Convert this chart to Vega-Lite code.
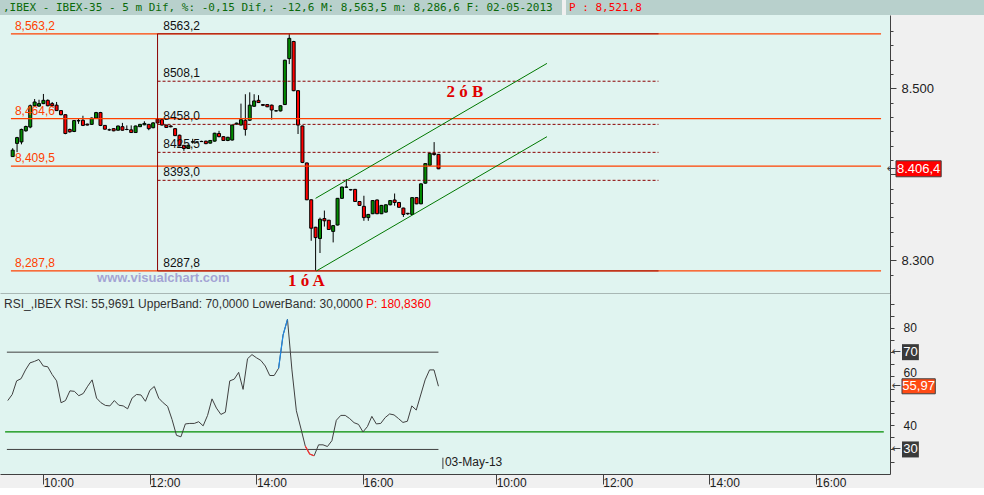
{
  "$schema": "https://vega.github.io/schema/vega-lite/v6.json",
  "background": "#f0f0f0",
  "padding": 0,
  "spacing": 0,
  "config": {
    "view": {"stroke": null, "fill": "#e0f4f0"},
    "font": "Liberation Sans",
    "concat": {"spacing": 0},
    "axis": {"grid": false, "labelFont": "Liberation Sans", "labelColor": "#202020", "domainColor": "#404040", "tickColor": "#404040"}
  },
  "datasets": {
    "candles": [
      {"i":4,"o":8420.6,"h":8430.3,"l":8420.2,"c":8428.1},
      {"i":5,"o":8435.9,"h":8443.5,"l":8425.8,"c":8442.6},
      {"i":6,"o":8437.6,"h":8453.0,"l":8434.8,"c":8452.1},
      {"i":7,"o":8450.5,"h":8456.5,"l":8449.5,"c":8455.5},
      {"i":8,"o":8454.9,"h":8481.0,"l":8453.5,"c":8479.6},
      {"i":9,"o":8479.6,"h":8487.4,"l":8478.5,"c":8484.0},
      {"i":10,"o":8479.2,"h":8486.6,"l":8478.5,"c":8482.1},
      {"i":11,"o":8482.1,"h":8493.3,"l":8481.5,"c":8485.9},
      {"i":12,"o":8485.9,"h":8487.0,"l":8479.0,"c":8479.6},
      {"i":13,"o":8482.1,"h":8484.0,"l":8478.4,"c":8479.6},
      {"i":14,"o":8480.3,"h":8484.0,"l":8473.5,"c":8474.0},
      {"i":15,"o":8474.0,"h":8474.5,"l":8468.5,"c":8469.2},
      {"i":16,"o":8469.2,"h":8469.5,"l":8446.5,"c":8447.4},
      {"i":17,"o":8452.1,"h":8453.0,"l":8448.5,"c":8449.3},
      {"i":18,"o":8449.7,"h":8463.0,"l":8449.0,"c":8462.4},
      {"i":19,"o":8462.4,"h":8464.2,"l":8458.6,"c":8462.0},
      {"i":20,"o":8462.8,"h":8468.0,"l":8456.0,"c":8456.8},
      {"i":21,"o":8458.3,"h":8458.8,"l":8456.8,"c":8457.2},
      {"i":22,"o":8458.0,"h":8466.0,"l":8457.5,"c":8465.3},
      {"i":23,"o":8465.3,"h":8472.5,"l":8465.0,"c":8471.7},
      {"i":24,"o":8471.7,"h":8472.5,"l":8456.0,"c":8456.8},
      {"i":25,"o":8456.8,"h":8457.0,"l":8452.0,"c":8452.4},
      {"i":26,"o":8451.7,"h":8453.0,"l":8450.5,"c":8451.6},
      {"i":27,"o":8453.0,"h":8453.5,"l":8450.0,"c":8450.5},
      {"i":28,"o":8451.2,"h":8456.5,"l":8450.8,"c":8456.1},
      {"i":29,"o":8455.3,"h":8459.7,"l":8450.8,"c":8451.2},
      {"i":30,"o":8452.1,"h":8456.8,"l":8451.2,"c":8452.0},
      {"i":31,"o":8451.6,"h":8456.8,"l":8448.0,"c":8448.5},
      {"i":32,"o":8448.5,"h":8456.5,"l":8448.0,"c":8456.1},
      {"i":33,"o":8455.3,"h":8458.5,"l":8455.0,"c":8458.0},
      {"i":34,"o":8457.5,"h":8461.6,"l":8457.0,"c":8459.1},
      {"i":35,"o":8458.0,"h":8458.5,"l":8451.2,"c":8453.0},
      {"i":36,"o":8454.1,"h":8460.5,"l":8453.5,"c":8459.7},
      {"i":37,"o":8464.2,"h":8465.0,"l":8459.0,"c":8459.7},
      {"i":38,"o":8463.5,"h":8464.0,"l":8456.8,"c":8457.2},
      {"i":39,"o":8457.2,"h":8457.5,"l":8453.8,"c":8454.4},
      {"i":40,"o":8456.1,"h":8457.0,"l":8454.5,"c":8455.2},
      {"i":41,"o":8453.0,"h":8453.5,"l":8444.5,"c":8444.9},
      {"i":42,"o":8445.4,"h":8446.0,"l":8432.5,"c":8433.1},
      {"i":43,"o":8433.7,"h":8434.0,"l":8427.3,"c":8430.0},
      {"i":44,"o":8430.0,"h":8434.5,"l":8429.5,"c":8433.7},
      {"i":45,"o":8437.4,"h":8441.2,"l":8435.6,"c":8437.8},
      {"i":46,"o":8437.5,"h":8438.5,"l":8436.5,"c":8437.4},
      {"i":47,"o":8438.0,"h":8439.0,"l":8437.5,"c":8438.2},
      {"i":48,"o":8438.5,"h":8439.0,"l":8435.0,"c":8435.6},
      {"i":49,"o":8436.2,"h":8439.8,"l":8435.8,"c":8439.3},
      {"i":50,"o":8438.5,"h":8448.2,"l":8438.0,"c":8447.7},
      {"i":51,"o":8447.4,"h":8450.5,"l":8443.0,"c":8443.7},
      {"i":52,"o":8443.7,"h":8444.0,"l":8438.8,"c":8439.3},
      {"i":53,"o":8439.3,"h":8443.5,"l":8438.5,"c":8443.0},
      {"i":54,"o":8439.8,"h":8457.7,"l":8439.3,"c":8457.2},
      {"i":55,"o":8458.3,"h":8460.0,"l":8457.8,"c":8459.4},
      {"i":56,"o":8457.2,"h":8482.1,"l":8456.8,"c":8463.5},
      {"i":57,"o":8462.8,"h":8493.0,"l":8444.9,"c":8452.1},
      {"i":58,"o":8462.8,"h":8495.2,"l":8462.0,"c":8480.3},
      {"i":59,"o":8479.0,"h":8493.0,"l":8478.5,"c":8485.2},
      {"i":60,"o":8485.9,"h":8491.9,"l":8482.8,"c":8483.3},
      {"i":61,"o":8481.0,"h":8481.5,"l":8479.2,"c":8480.1},
      {"i":62,"o":8481.0,"h":8481.5,"l":8478.0,"c":8478.4},
      {"i":63,"o":8480.3,"h":8481.0,"l":8463.5,"c":8474.7},
      {"i":64,"o":8473.6,"h":8474.5,"l":8473.0,"c":8473.8},
      {"i":65,"o":8473.6,"h":8480.0,"l":8473.0,"c":8479.6},
      {"i":66,"o":8481.0,"h":8533.0,"l":8480.5,"c":8532.5},
      {"i":67,"o":8534.4,"h":8563.2,"l":8528.0,"c":8557.9},
      {"i":68,"o":8554.2,"h":8555.0,"l":8496.5,"c":8497.1},
      {"i":69,"o":8497.1,"h":8497.5,"l":8446.8,"c":8457.2},
      {"i":70,"o":8456.1,"h":8456.5,"l":8413.0,"c":8413.8},
      {"i":71,"o":8413.2,"h":8413.5,"l":8370.0,"c":8370.4},
      {"i":72,"o":8370.4,"h":8370.8,"l":8322.8,"c":8337.4},
      {"i":73,"o":8338.5,"h":8339.0,"l":8287.8,"c":8326.5},
      {"i":74,"o":8325.4,"h":8349.7,"l":8308.6,"c":8347.8},
      {"i":75,"o":8348.6,"h":8357.9,"l":8339.3,"c":8346.0},
      {"i":76,"o":8346.7,"h":8347.0,"l":8335.5,"c":8335.9},
      {"i":77,"o":8333.7,"h":8341.0,"l":8320.9,"c":8340.4},
      {"i":78,"o":8341.1,"h":8372.5,"l":8340.6,"c":8372.1},
      {"i":79,"o":8372.1,"h":8385.7,"l":8371.5,"c":8385.2},
      {"i":80,"o":8385.0,"h":8394.5,"l":8384.5,"c":8385.2},
      {"i":81,"o":8382.2,"h":8383.0,"l":8381.0,"c":8382.0},
      {"i":82,"o":8382.5,"h":8383.0,"l":8368.0,"c":8368.4},
      {"i":83,"o":8368.4,"h":8368.8,"l":8363.5,"c":8363.9},
      {"i":84,"o":8362.8,"h":8375.1,"l":8346.0,"c":8349.7},
      {"i":85,"o":8349.7,"h":8354.0,"l":8346.0,"c":8353.4},
      {"i":86,"o":8354.2,"h":8370.0,"l":8353.8,"c":8369.5},
      {"i":87,"o":8370.2,"h":8370.6,"l":8353.8,"c":8354.2},
      {"i":88,"o":8354.2,"h":8364.4,"l":8353.8,"c":8363.9},
      {"i":89,"o":8356.1,"h":8365.0,"l":8355.6,"c":8364.6},
      {"i":90,"o":8364.6,"h":8370.0,"l":8364.0,"c":8369.5},
      {"i":91,"o":8370.2,"h":8377.7,"l":8363.5,"c":8367.3},
      {"i":92,"o":8367.3,"h":8367.7,"l":8361.3,"c":8361.7},
      {"i":93,"o":8360.8,"h":8361.2,"l":8350.5,"c":8353.4},
      {"i":94,"o":8354.7,"h":8355.2,"l":8352.8,"c":8354.2},
      {"i":95,"o":8353.4,"h":8373.4,"l":8353.0,"c":8372.9},
      {"i":96,"o":8372.9,"h":8373.3,"l":8365.3,"c":8365.7},
      {"i":97,"o":8365.7,"h":8389.4,"l":8365.3,"c":8388.9},
      {"i":98,"o":8389.7,"h":8412.9,"l":8389.2,"c":8412.4},
      {"i":99,"o":8410.5,"h":8424.9,"l":8410.0,"c":8424.4},
      {"i":100,"o":8424.4,"h":8437.4,"l":8421.7,"c":8423.0},
      {"i":101,"o":8423.2,"h":8423.6,"l":8406.0,"c":8406.4}
    ],
    "rsi": [
      {"i":4,"r":50.1},{"i":5,"r":52.6},{"i":6,"r":58.2},{"i":7,"r":59.1},{"i":8,"r":62.7},{"i":9,"r":65.6},
      {"i":10,"r":66.2},{"i":11,"r":67.0},{"i":12,"r":64.3},{"i":13,"r":64.0},{"i":14,"r":60.8},{"i":15,"r":58.2},
      {"i":16,"r":49.2},{"i":17,"r":50.1},{"i":18,"r":54.1},{"i":19,"r":53.9},{"i":20,"r":52.1},{"i":21,"r":53.0},
      {"i":22,"r":56.0},{"i":23,"r":58.6},{"i":24,"r":51.1},{"i":25,"r":49.2},{"i":26,"r":48.1},{"i":27,"r":47.9},
      {"i":28,"r":50.1},{"i":29,"r":48.2},{"i":30,"r":47.9},{"i":31,"r":46.7},{"i":32,"r":51.1},{"i":33,"r":52.6},
      {"i":34,"r":52.4},{"i":35,"r":49.8},{"i":36,"r":54.3},{"i":37,"r":55.9},{"i":38,"r":51.1},{"i":39,"r":49.2},
      {"i":40,"r":47.7},{"i":41,"r":42.3},{"i":42,"r":35.8},{"i":43,"r":35.2},{"i":44,"r":40.5},{"i":45,"r":40.7},
      {"i":46,"r":40.7},{"i":47,"r":41.4},{"i":48,"r":39.7},{"i":49,"r":44.0},{"i":50,"r":50.8},{"i":51,"r":47.0},
      {"i":52,"r":44.4},{"i":53,"r":45.3},{"i":54,"r":58.2},{"i":55,"r":58.9},{"i":56,"r":61.7},{"i":57,"r":54.7},
      {"i":58,"r":67.3},{"i":59,"r":69.0},{"i":60,"r":67.7},{"i":61,"r":66.6},{"i":62,"r":64.3},{"i":63,"r":60.4},
      {"i":64,"r":60.4},{"i":65,"r":63.4},{"i":66,"r":77.0},{"i":67,"r":83.5},{"i":68,"r":62.7},{"i":69,"r":45.9},
      {"i":70,"r":38.8},{"i":71,"r":31.4},{"i":72,"r":28.1},{"i":73,"r":27.4},{"i":74,"r":31.9},{"i":75,"r":31.9},
      {"i":76,"r":31.2},{"i":77,"r":33.6},{"i":78,"r":42.0},{"i":79,"r":44.0},{"i":80,"r":44.0},{"i":81,"r":42.7},
      {"i":82,"r":41.0},{"i":83,"r":40.3},{"i":84,"r":37.2},{"i":85,"r":39.4},{"i":86,"r":43.6},{"i":87,"r":40.5},
      {"i":88,"r":40.7},{"i":89,"r":43.1},{"i":90,"r":44.6},{"i":91,"r":44.2},{"i":92,"r":42.7},{"i":93,"r":41.1},
      {"i":94,"r":41.6},{"i":95,"r":47.9},{"i":96,"r":46.2},{"i":97,"r":52.4},{"i":98,"r":58.6},{"i":99,"r":62.7},
      {"i":100,"r":62.7},{"i":101,"r":56.0}
    ]
  },
  "vconcat": [
    {
      "hconcat": [
        {
          "width": 562, "height": 15,
          "view": {"fill": "#b8d0cc", "stroke": null},
          "title": {"text": ",IBEX - IBEX-35 -   5 m Dif, %: -0,15 Dif,: -12,6 M: 8,563,5 m: 8,286,6 F: 02-05-2013", "anchor": "start", "orient": "top", "offset": -13, "dx": 3, "fontSize": 11, "fontWeight": "normal", "color": "#0a6a0a", "font": "DejaVu Sans Mono"},
          "data": {"values": [{"t": ""}]},
          "mark": {"type": "text"},
          "encoding": {"text": {"field": "t"}}
        },
        {
          "width": 422, "height": 15,
          "view": {"fill": "#b8d0cc", "stroke": null},
          "title": {"text": "P : 8,521,8", "anchor": "start", "orient": "top", "offset": -13, "dx": 3, "fontSize": 11, "fontWeight": "normal", "color": "#ff0000", "font": "DejaVu Sans Mono"},
          "data": {"values": [{"t": ""}]},
          "mark": {"type": "text"},
          "encoding": {"text": {"field": "t"}}
        }
      ]
    },
    {
      "width": 890, "height": 279,
      "layer": [
        {
          "data": {"name": "candles"},
          "mark": {"type": "rule", "color": "#000000", "strokeWidth": 1},
          "encoding": {
            "x": {"field": "i", "type": "quantitative", "scale": {"domain": [2.25, 202.7], "nice": false, "zero": false},
                  "axis": {"orient": "bottom", "labels": false, "ticks": false, "domain": true, "domainColor": "#000000", "domainWidth": 1.5, "title": null, "grid": false}},
            "y": {"field": "l", "type": "quantitative", "scale": {"domain": [8266.8, 8579.2], "nice": false, "zero": false},
                  "axis": {"orient": "right", "values": [8283.3, 8300, 8316.7, 8333.3, 8350, 8366.7, 8383.3, 8400, 8416.7, 8433.3, 8450, 8466.7, 8483.3, 8500, 8516.7, 8533.3, 8550, 8566.7],
                           "labelExpr": "datum.value == 8300 || datum.value == 8500 ? replace(format(datum.value, ','), ',', '.') : ''",
                           "tickSize": {"condition": {"test": "datum.value % 100 == 0", "value": 6}, "value": 3},
                           "labelPadding": 5, "labelFontSize": 13, "labelOverlap": false, "labelFlush": false, "title": null, "grid": false}},
            "y2": {"field": "h"}
          }
        },
        {
          "data": {"name": "candles"},
          "mark": {"type": "bar", "size": 3, "stroke": "#000000", "strokeWidth": 1},
          "encoding": {
            "x": {"field": "i", "type": "quantitative", "title": null},
            "y": {"field": "o", "type": "quantitative", "title": null, "axis": {"orient": "right", "values": [8283.3, 8300, 8316.7, 8333.3, 8350, 8366.7, 8383.3, 8400, 8416.7, 8433.3, 8450, 8466.7, 8483.3, 8500, 8516.7, 8533.3, 8550, 8566.7]}},
            "y2": {"field": "c"},
            "fill": {"condition": {"test": "datum.c >= datum.o", "value": "#008c00"}, "value": "#ff0000"}
          }
        },
        {
          "data": {"values": [{"p": 8563.2, "t": "8,563,2"}, {"p": 8464.6, "t": "8,464,6"}, {"p": 8409.5, "t": "8,409,5"}, {"p": 8287.8, "t": "8,287,8"}]},
          "layer": [
            {"mark": {"type": "rule", "color": "#ff4000", "strokeWidth": 1.2},
             "encoding": {"x": {"datum": 3.6}, "x2": {"datum": 201.8}, "y": {"field": "p", "type": "quantitative", "title": null, "axis": {"orient": "right", "values": [8283.3, 8300, 8316.7, 8333.3, 8350, 8366.7, 8383.3, 8400, 8416.7, 8433.3, 8450, 8466.7, 8483.3, 8500, 8516.7, 8533.3, 8550, 8566.7]}}}},
            {"mark": {"type": "text", "align": "left", "baseline": "bottom", "dy": -1, "fontSize": 12, "color": "#ff4000"},
             "encoding": {"x": {"datum": 4.5}, "y": {"field": "p", "type": "quantitative", "title": null, "axis": {"orient": "right", "values": [8283.3, 8300, 8316.7, 8333.3, 8350, 8366.7, 8383.3, 8400, 8416.7, 8433.3, 8450, 8466.7, 8483.3, 8500, 8516.7, 8533.3, 8550, 8566.7]}}, "text": {"field": "t"}}}
          ]
        },
        {
          "data": {"values": [{"p": 8563.2, "t": "8563,2", "k": "s"}, {"p": 8508.1, "t": "8508,1", "k": "d"}, {"p": 8458.0, "t": "8458,0", "k": "d"}, {"p": 8425.5, "t": "8425,5", "k": "d"}, {"p": 8393.0, "t": "8393,0", "k": "d"}, {"p": 8287.8, "t": "8287,8", "k": "s"}]},
          "layer": [
            {"mark": {"type": "rule", "color": "#8b0000", "strokeWidth": 1},
             "encoding": {"x": {"datum": 37}, "x2": {"datum": 151.1}, "y": {"field": "p", "type": "quantitative", "title": null, "axis": {"orient": "right", "values": [8283.3, 8300, 8316.7, 8333.3, 8350, 8366.7, 8383.3, 8400, 8416.7, 8433.3, 8450, 8466.7, 8483.3, 8500, 8516.7, 8533.3, 8550, 8566.7]}},
                          "strokeDash": {"condition": {"test": "datum.k == 's'", "value": [1, 0]}, "value": [3, 2]}}},
            {"mark": {"type": "text", "align": "left", "baseline": "bottom", "dy": -1, "fontSize": 12, "color": "#101010"},
             "encoding": {"x": {"datum": 38.3}, "y": {"field": "p", "type": "quantitative", "title": null, "axis": {"orient": "right", "values": [8283.3, 8300, 8316.7, 8333.3, 8350, 8366.7, 8383.3, 8400, 8416.7, 8433.3, 8450, 8466.7, 8483.3, 8500, 8516.7, 8533.3, 8550, 8566.7]}}, "text": {"field": "t"}}}
          ]
        },
        {
          "data": {"values": [{"p": 8287.8, "p2": 8563.2}]},
          "mark": {"type": "rule", "color": "#8b0000", "strokeWidth": 1},
          "encoding": {"x": {"datum": 37}, "y": {"field": "p", "type": "quantitative", "title": null, "axis": {"orient": "right", "values": [8283.3, 8300, 8316.7, 8333.3, 8350, 8366.7, 8383.3, 8400, 8416.7, 8433.3, 8450, 8466.7, 8483.3, 8500, 8516.7, 8533.3, 8550, 8566.7]}}, "y2": {"field": "p2"}}
        },
        {
          "data": {"values": [{"i": 73.2, "p": 8287.8, "i2": 125.7, "p2": 8443.7}, {"i": 73.0, "p": 8372.1, "i2": 125.7, "p2": 8528.8}]},
          "mark": {"type": "rule", "color": "#007800", "strokeWidth": 1},
          "encoding": {"x": {"field": "i", "type": "quantitative", "title": null}, "x2": {"field": "i2"}, "y": {"field": "p", "type": "quantitative", "title": null, "axis": {"orient": "right", "values": [8283.3, 8300, 8316.7, 8333.3, 8350, 8366.7, 8383.3, 8400, 8416.7, 8433.3, 8450, 8466.7, 8483.3, 8500, 8516.7, 8533.3, 8550, 8566.7]}}, "y2": {"field": "p2"}}
        },
        {
          "data": {"values": [{"i": 107.0, "p": 8495.8, "t": "2 ó B"}, {"i": 70.9, "p": 8275.8, "t": "1 ó A"}]},
          "mark": {"type": "text", "font": "Liberation Serif", "fontWeight": "bold", "fontSize": 17, "color": "#e00000"},
          "encoding": {"x": {"field": "i", "type": "quantitative", "title": null}, "y": {"field": "p", "type": "quantitative", "title": null, "axis": {"orient": "right", "values": [8283.3, 8300, 8316.7, 8333.3, 8350, 8366.7, 8383.3, 8400, 8416.7, 8433.3, 8450, 8466.7, 8483.3, 8500, 8516.7, 8533.3, 8550, 8566.7]}}, "text": {"field": "t"}}
        },
        {
          "data": {"values": [{"i": 38.3, "p": 8279.5, "t": "www.visualchart.com"}]},
          "mark": {"type": "text", "fontWeight": "bold", "fontSize": 13, "color": "#a4a4d4"},
          "encoding": {"x": {"field": "i", "type": "quantitative", "title": null}, "y": {"field": "p", "type": "quantitative", "title": null, "axis": {"orient": "right", "values": [8283.3, 8300, 8316.7, 8333.3, 8350, 8366.7, 8383.3, 8400, 8416.7, 8433.3, 8450, 8466.7, 8483.3, 8500, 8516.7, 8533.3, 8550, 8566.7]}}, "text": {"field": "t"}}
        },
        {
          "data": {"values": [{"v": 8406.4, "t": "8.406,4"}]},
          "layer": [
            {"mark": {"type": "bar", "orient": "horizontal", "size": 16, "fill": "#ff0000", "stroke": "#404040", "strokeWidth": 1},
             "encoding": {"x": {"datum": 205.2}, "x2": {"datum": 215.5}, "y": {"field": "v", "type": "quantitative", "title": null, "axis": {"orient": "right", "values": [8283.3, 8300, 8316.7, 8333.3, 8350, 8366.7, 8383.3, 8400, 8416.7, 8433.3, 8450, 8466.7, 8483.3, 8500, 8516.7, 8533.3, 8550, 8566.7]}}}},
            {"mark": {"type": "text", "fontSize": 13, "color": "#ffffff"},
             "encoding": {"x": {"datum": 210.35}, "y": {"field": "v", "type": "quantitative", "title": null, "axis": {"orient": "right", "values": [8283.3, 8300, 8316.7, 8333.3, 8350, 8366.7, 8383.3, 8400, 8416.7, 8433.3, 8450, 8466.7, 8483.3, 8500, 8516.7, 8533.3, 8550, 8566.7]}}, "text": {"field": "t"}}},
            {"mark": {"type": "text", "fontSize": 11, "color": "#404040", "font": "DejaVu Sans"},
             "encoding": {"x": {"datum": 204.1}, "y": {"field": "v", "type": "quantitative", "title": null, "axis": {"orient": "right", "values": [8283.3, 8300, 8316.7, 8333.3, 8350, 8366.7, 8383.3, 8400, 8416.7, 8433.3, 8450, 8466.7, 8483.3, 8500, 8516.7, 8533.3, 8550, 8566.7]}}, "text": {"value": "←"}}}
          ]
        }
      ]
    },
    {
      "width": 890, "height": 180,
      "layer": [
        {
          "data": {"values": [{"v": 70}, {"v": 30}]},
          "mark": {"type": "rule", "color": "#404040", "strokeWidth": 1},
          "encoding": {"x": {"datum": 3.8}, "x2": {"datum": 101}, "y": {"field": "v", "type": "quantitative", "title": null, "axis": {"orient": "right", "values": [25, 30, 35, 40, 45, 50, 55, 60, 65, 70, 75, 80, 85, 90]}}}
        },
        {
          "data": {"values": [{"v": 37.2}]},
          "mark": {"type": "rule", "color": "#008c00", "strokeWidth": 1.2},
          "encoding": {"x": {"datum": 3.4}, "x2": {"datum": 201.3}, "y": {"field": "v", "type": "quantitative", "title": null, "axis": {"orient": "right", "values": [25, 30, 35, 40, 45, 50, 55, 60, 65, 70, 75, 80, 85, 90]}}}
        },
        {
          "data": {"name": "rsi"},
          "mark": {"type": "line", "color": "#404040", "strokeWidth": 1},
          "encoding": {
            "x": {"field": "i", "type": "quantitative", "scale": {"domain": [2.25, 202.7], "nice": false, "zero": false},
                  "axis": {"orient": "bottom", "values": [12, 36, 60, 84, 114, 138, 162, 186],
                           "labelExpr": "(datum.value < 102 ? 9 + datum.value / 12 : 9 + (datum.value - 102) / 12) + ':00'",
                           "tickSize": 10, "labelAlign": "left", "labelBaseline": "top", "labelPadding": -7, "labelDx": 2, "labelFontSize": 12,
                           "labelOverlap": false, "labelFlush": false, "title": null, "grid": false}},
            "y": {"field": "r", "type": "quantitative", "scale": {"domain": [21.96, 91.86], "nice": false, "zero": false},
                  "axis": {"orient": "right", "values": [25, 30, 35, 40, 45, 50, 55, 60, 65, 70, 75, 80, 85, 90],
                           "labelExpr": "datum.value == 80 || datum.value == 60 || datum.value == 40 ? format(datum.value, 'd') : ''",
                           "labelOffset": {"condition": {"test": "datum.value == 60", "value": -4}, "value": 0},
                           "tickSize": 4, "labelPadding": 9, "labelFontSize": 12, "labelOverlap": false, "labelFlush": false, "title": null, "grid": false}}
          }
        },
        {
          "data": {"name": "rsi"},
          "transform": [{"filter": "datum.i >= 65 && datum.i <= 67"}],
          "mark": {"type": "line", "color": "#1e88e5", "strokeWidth": 1.2},
          "encoding": {"x": {"field": "i", "type": "quantitative", "title": null}, "y": {"field": "r", "type": "quantitative", "title": null, "axis": {"orient": "right", "values": [25, 30, 35, 40, 45, 50, 55, 60, 65, 70, 75, 80, 85, 90]}}}
        },
        {
          "data": {"name": "rsi"},
          "transform": [{"filter": "datum.i >= 71 && datum.i <= 73"}],
          "mark": {"type": "line", "color": "#ff3030", "strokeWidth": 1.2},
          "encoding": {"x": {"field": "i", "type": "quantitative", "title": null}, "y": {"field": "r", "type": "quantitative", "title": null, "axis": {"orient": "right", "values": [25, 30, 35, 40, 45, 50, 55, 60, 65, 70, 75, 80, 85, 90]}}}
        },
        {
          "data": {"values": [{"t": "RSI_,IBEX RSI: 55,9691 UpperBand: 70,0000 LowerBand: 30,0000", "i": 3.15, "c": "#303030"}, {"t": "P: 180,8360", "i": 84.7, "c": "#ff0000"}]},
          "mark": {"type": "text", "align": "left", "fontSize": 12},
          "encoding": {"x": {"field": "i", "type": "quantitative", "title": null}, "y": {"datum": 89.6, "axis": {"orient": "right", "values": [25, 30, 35, 40, 45, 50, 55, 60, 65, 70, 75, 80, 85, 90]}}, "text": {"field": "t"}, "color": {"field": "c", "type": "nominal", "scale": null}}
        },
        {
          "data": {"values": [{"d": "03-May-13", "i": 102, "r": 21.96, "r2": 26.6}]},
          "layer": [
            {"mark": {"type": "rule", "color": "#404040"},
             "encoding": {"x": {"field": "i", "type": "quantitative", "title": null}, "y": {"field": "r", "type": "quantitative", "title": null, "axis": {"orient": "right", "values": [25, 30, 35, 40, 45, 50, 55, 60, 65, 70, 75, 80, 85, 90]}}, "y2": {"field": "r2"}}},
            {"mark": {"type": "text", "align": "left", "dx": 2, "fontSize": 12, "color": "#202020"},
             "encoding": {"x": {"field": "i", "type": "quantitative", "title": null}, "y": {"datum": 25.0, "axis": {"orient": "right", "values": [25, 30, 35, 40, 45, 50, 55, 60, 65, 70, 75, 80, 85, 90]}}, "text": {"field": "d"}}}
          ]
        },
        {
          "data": {"values": [{"v": 70, "t": "70"}, {"v": 30, "t": "30"}]},
          "layer": [
            {"mark": {"type": "bar", "orient": "horizontal", "size": 16, "fill": "#3a3a3a"},
             "encoding": {"x": {"datum": 205.4}, "x2": {"datum": 209.2}, "y": {"field": "v", "type": "quantitative", "title": null, "axis": {"orient": "right", "values": [25, 30, 35, 40, 45, 50, 55, 60, 65, 70, 75, 80, 85, 90]}}}},
            {"mark": {"type": "text", "fontSize": 13, "color": "#ffffff"},
             "encoding": {"x": {"datum": 207.3}, "y": {"field": "v", "type": "quantitative", "title": null, "axis": {"orient": "right", "values": [25, 30, 35, 40, 45, 50, 55, 60, 65, 70, 75, 80, 85, 90]}}, "text": {"field": "t"}}},
            {"mark": {"type": "text", "fontSize": 11, "color": "#404040", "font": "DejaVu Sans"},
             "encoding": {"x": {"datum": 204.1}, "y": {"field": "v", "type": "quantitative", "title": null, "axis": {"orient": "right", "values": [25, 30, 35, 40, 45, 50, 55, 60, 65, 70, 75, 80, 85, 90]}}, "text": {"value": "←"}}}
          ]
        },
        {
          "data": {"values": [{"v": 55.97, "t": "55,97"}]},
          "layer": [
            {"mark": {"type": "bar", "orient": "horizontal", "size": 15, "fill": "#ff4a14", "stroke": "#404040", "strokeWidth": 1},
             "encoding": {"x": {"datum": 205.4}, "x2": {"datum": 212.9}, "y": {"field": "v", "type": "quantitative", "title": null, "axis": {"orient": "right", "values": [25, 30, 35, 40, 45, 50, 55, 60, 65, 70, 75, 80, 85, 90]}}}},
            {"mark": {"type": "text", "fontSize": 13, "color": "#ffffff"},
             "encoding": {"x": {"datum": 209.15}, "y": {"field": "v", "type": "quantitative", "title": null, "axis": {"orient": "right", "values": [25, 30, 35, 40, 45, 50, 55, 60, 65, 70, 75, 80, 85, 90]}}, "text": {"field": "t"}}},
            {"mark": {"type": "text", "fontSize": 11, "color": "#404040", "font": "DejaVu Sans"},
             "encoding": {"x": {"datum": 204.1}, "y": {"field": "v", "type": "quantitative", "title": null, "axis": {"orient": "right", "values": [25, 30, 35, 40, 45, 50, 55, 60, 65, 70, 75, 80, 85, 90]}}, "text": {"value": "←"}}}
          ]
        }
      ]
    }
  ]
}
